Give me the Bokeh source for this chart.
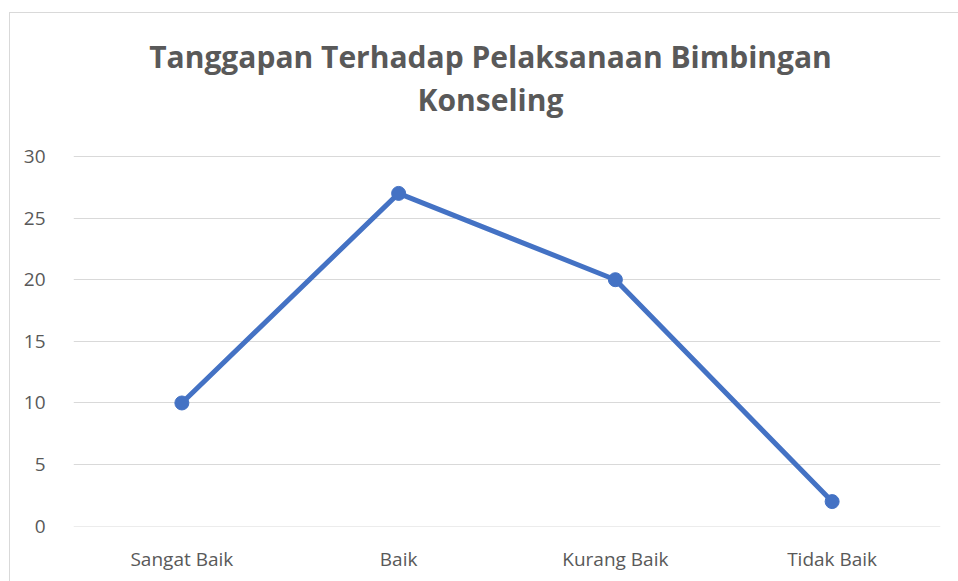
from bokeh.plotting import figure
from bokeh.models import ColumnDataSource, FixedTicker, Label
from bokeh.embed import file_html
from bokeh.resources import INLINE

categories = ["Sangat Baik", "Baik", "Kurang Baik", "Tidak Baik"]
values = [10, 27, 20, 2]
y_ticks = [0, 5, 10, 15, 20, 25, 30]
title_lines = ["Tanggapan Terhadap Pelaksanaan Bimbingan", "Konseling"]

FONT = "Open Sans"
GREY = "#595959"

# frame spans the full height above the x labels; values 0..30 occupy its lower 370 px,
# the space above (156 px) holds the title
PX_PER_UNIT = 370 / 30
Y_TOP = 30 + 156 / PX_PER_UNIT

p = figure(x_range=categories, y_range=(-0.02, Y_TOP), width=958, height=581,
           output_backend="svg", toolbar_location=None,
           min_border_left=73, min_border_right=18, min_border_top=0, min_border_bottom=55)
p.x_range.range_padding = 0
p.outline_line_color = None
p.border_fill_color = None
p.background_fill_color = None
line_bg = "linear-gradient(#d9d9d9, #d9d9d9)"
p.styles = {
    "background": f"{line_bg} 9px 12px / 1px 100% no-repeat, "
                  f"{line_bg} 9px 12px / 100% 1px no-repeat, white",
}
p.title.visible = False

p.yaxis.ticker = FixedTicker(ticks=y_ticks)
for ax in (p.xaxis[0], p.yaxis[0]):
    ax.axis_line_color = None
    ax.major_tick_line_color = None
    ax.minor_tick_line_color = None
    ax.major_label_text_font = FONT
    ax.major_label_text_font_size = "19px"
    ax.major_label_text_color = GREY
p.yaxis.major_label_standoff = 22
p.xaxis.major_label_standoff = 13

p.xgrid.grid_line_color = None
p.ygrid.grid_line_color = "#d9d9d9"
p.ygrid.grid_line_width = 1

src = ColumnDataSource(dict(x=categories, y=values))
p.line("x", "y", source=src, line_color="#4472C4", line_width=5)
p.scatter("x", "y", source=src, size=14, fill_color="#4472C4", line_color="#4472C4")

title_y = [470, 427]
for t, ty in zip(title_lines, title_y):
    p.add_layout(Label(x=417, y=ty, x_units="screen", y_units="screen", text=t,
                       text_align="center", text_baseline="alphabetic",
                       text_font=FONT, text_font_style="bold", text_font_size="30px",
                       text_color=GREY))

open("out.html", "w").write(file_html(p, INLINE))
